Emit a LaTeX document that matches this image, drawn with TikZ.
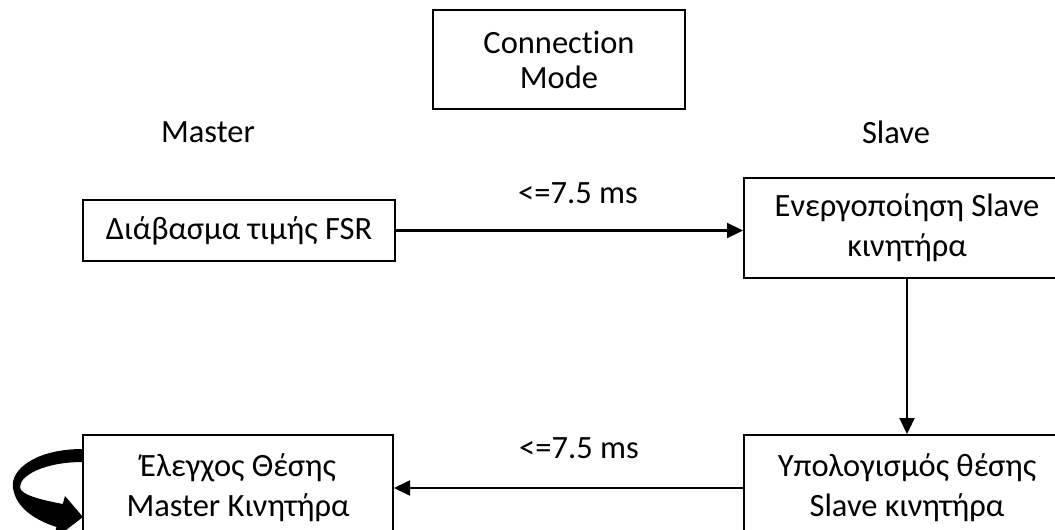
\documentclass[tikz,border=0pt]{standalone}
\usepackage{fontspec}
\setmainfont{Carlito}[Ligatures={NoCommon,NoDiscretionary,NoHistoric}]
\usetikzlibrary{arrows.meta}
\begin{document}
\begin{tikzpicture}[x=1pt,y=-1pt,
  every node/.style={font=\fontsize{32.5}{40}\selectfont, inner sep=0pt, align=center},
  block/.style={draw, line width=2pt, rectangle, minimum width=#1},
  flow/.style={line width=2.2pt, -{Triangle[length=16pt,width=15pt]}}]
  \useasboundingbox (0,0) rectangle (1055,530);
  \clip (0,0) rectangle (1055,530);
  \fill[white] (0,0) rectangle (1055,530);

  % header
  \node[block=252pt, minimum height=99pt, font=\fontsize{32.5}{35}\selectfont] (mode) at (559,59.5) {Connection\\Mode};
  \node (master) at (208,132) {Master};
  \node (slave) at (896,132) {Slave};

  % master side
  \node[block=312pt, minimum height=61pt] (fsr) at (239,230.5) {Διάβασμα τιμής FSR};
  \node[block=310pt, minimum height=106pt] (check) at (238,488) {Έλεγχος Θέσης\\Master Κινητήρα};

  % slave side
  \node[block=326pt, minimum height=100pt] (enable) at (907,228) {Ενεργοποίηση Slave\\κινητήρα};
  \node[block=326pt, minimum height=106pt] (calc) at (907,488) {Υπολογισμός θέσης\\Slave κινητήρα};

  % messages between the two sides
  \draw[flow] (fsr.east) -- (fsr.east -| enable.west);
  \node (t1) at (578,193) {<=7.5 ms};
  \draw[flow] (enable.south) -- (calc.north);
  \draw[flow] (calc.west) -- (calc.west -| check.east);
  \node (t2) at (579,448) {<=7.5 ms};

  % feedback loop on the master controller
  \fill (83,449) .. controls (35,449) and (10,470) .. (13,488)
        .. controls (16,508) and (35,520) .. (56.5,527)
        -- (53,540) -- (83,517) -- (65,496) -- (62.8,504)
        .. controls (42,500) and (20,495) .. (20,487)
        .. controls (20,475) and (45,462) .. (83,462) -- cycle;
\end{tikzpicture}
\end{document}
